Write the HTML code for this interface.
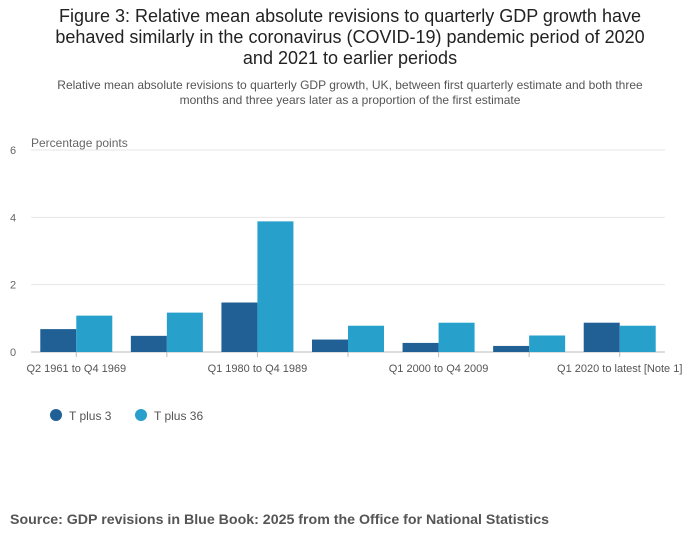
<!DOCTYPE html>
<html><head><meta charset="utf-8">
<style>
body{margin:0;background:#fff;font-family:"Liberation Sans",sans-serif;}
#wrap{position:relative;width:700px;height:549px;overflow:hidden;}
h1{position:absolute;top:6px;left:0;width:700px;margin:0;text-align:center;font-weight:normal;font-size:18px;line-height:21px;color:#222;}
.sub{position:absolute;top:78px;left:0;width:700px;text-align:center;font-size:12px;line-height:15px;color:#555;}
.src{position:absolute;top:512px;left:10px;font-size:14.2px;font-weight:bold;color:#555;}
svg{position:absolute;left:0;top:0;}
</style></head><body>
<div id="wrap">
<h1>Figure 3: Relative mean absolute revisions to quarterly GDP growth have<br>behaved similarly in the coronavirus (COVID-19) pandemic period of 2020<br>and 2021 to earlier periods</h1>
<div class="sub">Relative mean absolute revisions to quarterly GDP growth, UK, between first quarterly estimate and both three<br>months and three years later as a proportion of the first estimate</div>
<svg id="chart" width="700" height="549"></svg>
<div class="src">Source: GDP revisions in Blue Book: 2025 from the Office for National Statistics</div>
</div>
<script>
const categories=["Q2 1961 to Q4 1969","Q1 1970 to Q4 1979","Q1 1980 to Q4 1989","Q1 1990 to Q4 1999","Q1 2000 to Q4 2009","Q1 2010 to Q4 2019","Q1 2020 to latest [Note 1]"];
const tPlus3=[0.68,0.48,1.47,0.37,0.27,0.18,0.87];
const tPlus36=[1.08,1.17,3.88,0.78,0.87,0.49,0.78];
const yTicks=[0,2,4,6];
const seriesNames=["T plus 3","T plus 36"];
const colors=["#206095","#27a0cc"];
const svg=document.getElementById('chart');
const NS="http://www.w3.org/2000/svg";
const x0=31,x1=665,yTop=150,yBot=352,yMax=6;
const band=(x1-x0)/categories.length;
const y=v=>yBot-(v/yMax)*(yBot-yTop);
const xc=i=>x0+band*(i+0.5);
function mk(t,a){const e=document.createElementNS(NS,t);for(const k in a)e.setAttribute(k,a[k]);svg.appendChild(e);return e;}
yTicks.forEach(t=>{
  const l=mk('line',{x1:x0,x2:x1,y1:y(t),y2:y(t),stroke:t===0?'#bbb':'#e6e6e6','stroke-width':1});
  
  
  const tx=mk('text',{x:10,y:y(t)+4,'font-size':11,fill:'#666'});tx.textContent=t;
  
  
});
const yt=mk('text',{x:31,y:147,'font-size':12,fill:'#666'});yt.textContent="Percentage points";


const bw=36;
categories.forEach((c,i)=>{
  [tPlus3,tPlus36].forEach((s,j)=>{
    const bx=xc(i)-bw+j*bw;
    const r=mk('rect',{x:bx,y:y(s[i]),width:bw,height:yBot-y(s[i]),fill:colors[j]});
    
    
  });
  const tk=mk('line',{x1:xc(i),x2:xc(i),y1:yBot,y2:yBot+5,stroke:'#bbb'});
  
  
  if(i%2===0){
    const t=mk('text',{x:xc(i),y:372,'font-size':11,fill:'#555','text-anchor':'middle'});t.textContent=c;
    
    
  }
});
seriesNames.forEach((n,j)=>{
  const lx=56+j*85;
  const c=mk('circle',{cx:lx,cy:415,r:6,fill:colors[j]});
  
  
  const t=mk('text',{x:lx+13,y:420,'font-size':12,fill:'#555'});t.textContent=n;
  
  
});
</script>
</body></html>
